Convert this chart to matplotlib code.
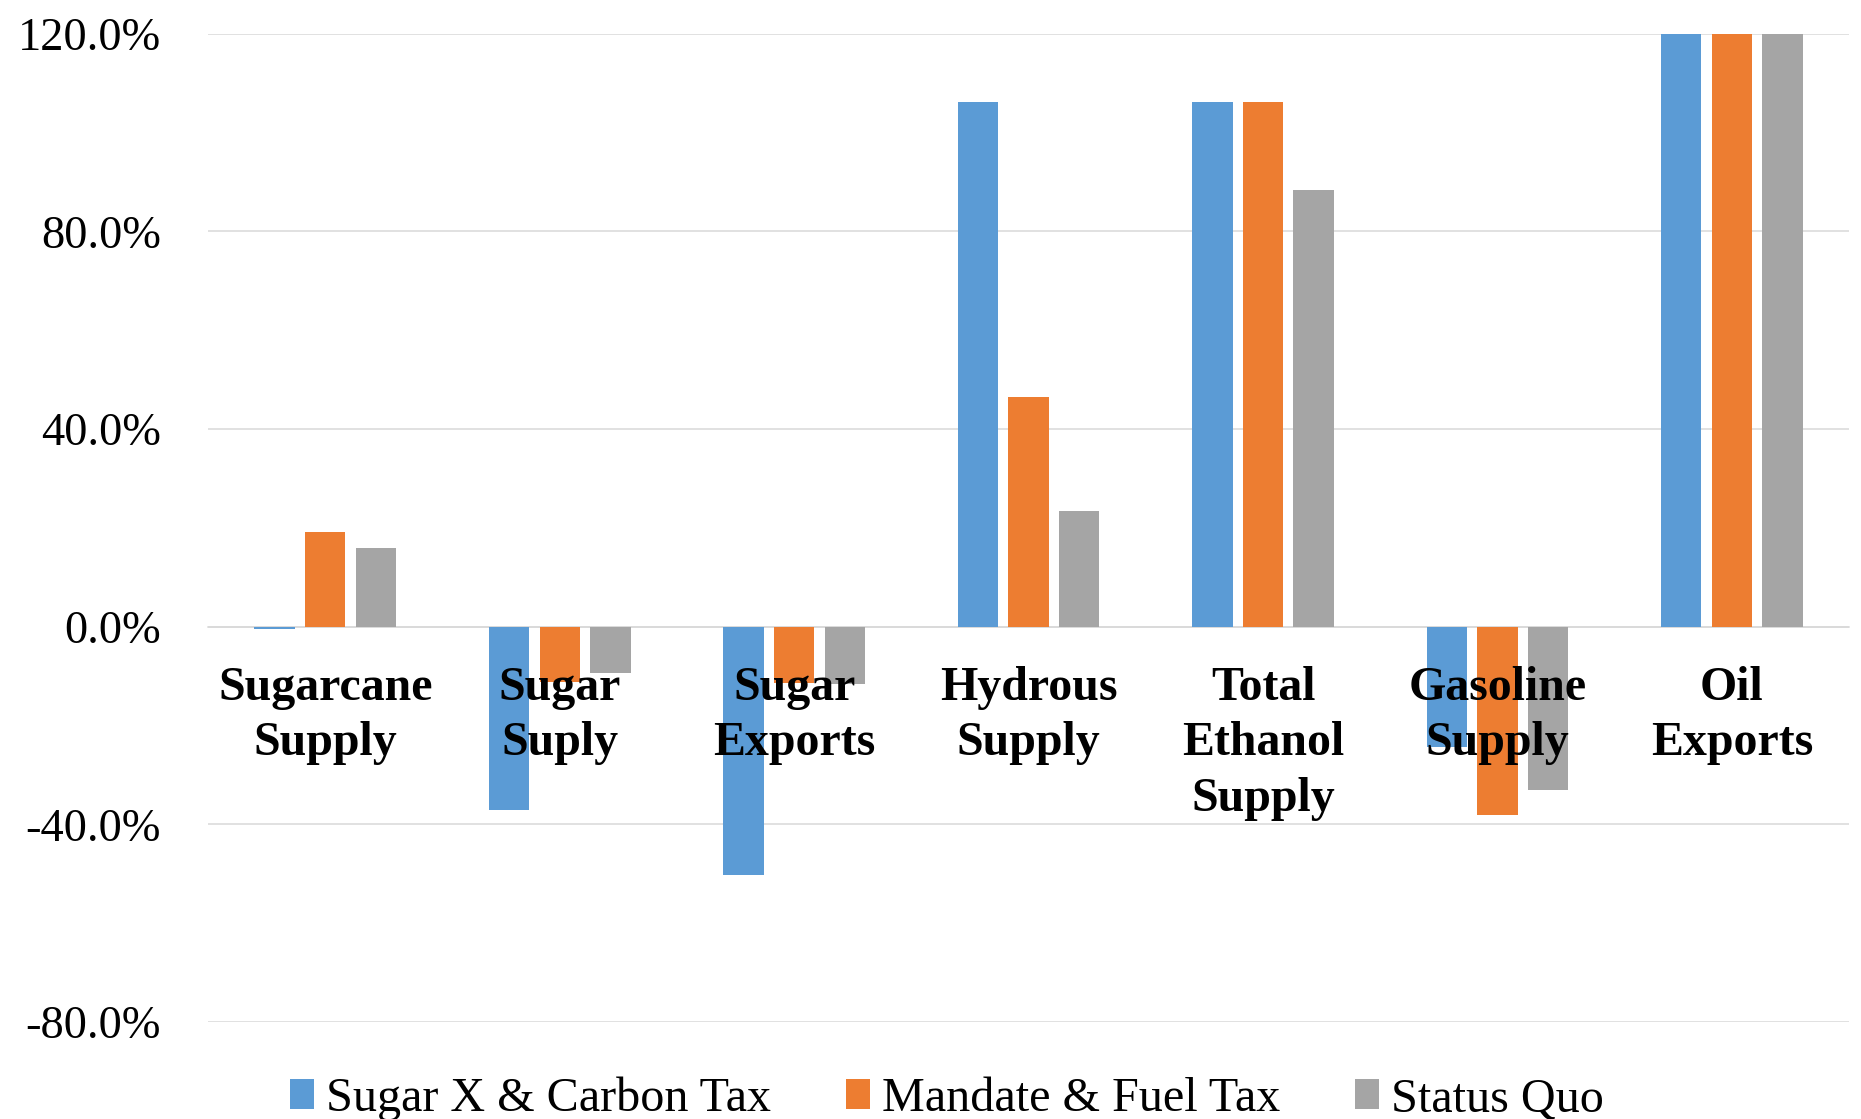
import numpy as np
import matplotlib.pyplot as plt
from matplotlib.ticker import FuncFormatter

plt.rcParams['font.family'] = ['Liberation Serif', 'DejaVu Serif']

# ---------------------------------------------------------
# Percentage change per indicator and policy scenario
# ---------------------------------------------------------

categories = [
    "Sugarcane\nSupply",
    "Sugar\nSuply",
    "Sugar\nExports",
    "Hydrous\nSupply",
    "Total\nEthanol\nSupply",
    "Gasoline\nSupply",
    "Oil\nExports",
]

series_names = ["Sugar X & Carbon Tax", "Mandate & Fuel Tax", "Status Quo"]

sugar_x_carbon = [-0.5, -37.2, -50.2, 106.2, 106.2, -24.4, 125.0]
mandate_fuel = [19.1, -11.3, -11.4, 46.4, 106.2, -38.2, 125.0]
status_quo = [15.9, -9.4, -11.6, 23.4, 88.4, -33.0, 125.0]

colors = ['#5B9BD5', '#ED7D31', '#A5A5A5']
y_ticks = [-80, -40, 0, 40, 80, 120]

# ---------------------------------------------------------
# Clustered bars
# ---------------------------------------------------------

fig = plt.figure(figsize=(18.61, 11.19), dpi=100)
ax = fig.add_axes([0.1118, 0.0867, 0.8818, 0.8833])

x = np.arange(len(categories))
step = 0.216
width = 0.172

handles = []
for i, (name, vals, col) in enumerate(zip(series_names,
                                          [sugar_x_carbon, mandate_fuel, status_quo],
                                          colors)):
    bars = ax.bar(x + (i - 1) * step, vals, width=width, color=col,
                  label=name, zorder=2)
    handles.append(bars)

ax.set_xlim(-0.5, len(categories) - 0.5)
ax.set_ylim(-80, 120)
ax.set_yticks(y_ticks)
ax.yaxis.set_major_formatter(FuncFormatter(lambda v, p: f"{v:.1f}%"))
ax.tick_params(axis='y', length=0, pad=34, labelsize=33.5)

ax.yaxis.grid(True, color='#D9D9D9', linewidth=1.1, zorder=0)
ax.set_axisbelow(True)

for side in ['top', 'right', 'left']:
    ax.spines[side].set_visible(False)
ax.spines['bottom'].set_position(('data', 0))
ax.spines['bottom'].set_color('#D9D9D9')
ax.spines['bottom'].set_linewidth(1.1)
ax.spines['bottom'].set_zorder(1)

# category names sit on the zero line, drawn over the bars
ax.set_xticks(x)
ax.set_xticklabels(categories, fontweight='bold', fontsize=34.5)
ax.tick_params(axis='x', length=0, pad=28)
for lab in ax.get_xticklabels():
    lab.set_linespacing(1.34)
ax.xaxis.set_zorder(5)

fig.legend(
    handles=handles,
    labels=series_names,
    loc='center',
    bbox_to_anchor=(0.509, 0.018),
    ncol=3,
    frameon=False,
    fontsize=34.7,
    handlelength=0.5,
    handleheight=0.6,
    handletextpad=0.25,
    columnspacing=1.55,
    borderpad=0,
)

fig.savefig("out.png", dpi=100)
